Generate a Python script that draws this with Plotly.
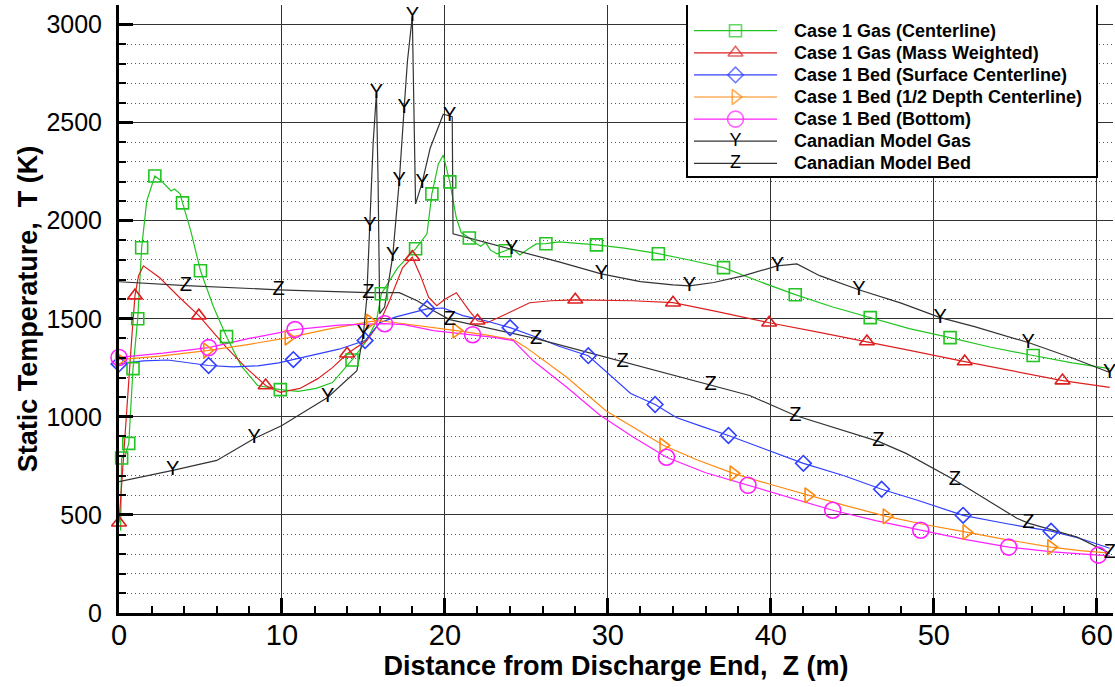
import plotly.graph_objects as go

# ---------------- data ----------------
# Case 1 Gas (Centerline)
gas_c_x = [0.10, 0.16, 0.37, 0.60, 0.86, 1.15, 1.39, 1.70, 2.20, 2.60, 2.90, 3.20, 3.40, 3.75, 3.90,
           4.40, 5.00, 5.80, 6.60, 7.50, 8.50, 9.90, 11.0, 12.1, 13.1, 14.3, 15.2, 15.8, 16.1, 17.1,
           18.2, 18.9, 19.2, 19.6, 19.9, 20.3, 20.7, 21.0, 21.5, 21.9, 22.2, 22.5, 22.8, 23.2, 23.7,
           24.1, 24.6, 25.0, 25.6, 26.2, 27.0, 28.0, 29.3, 31.0, 33.1, 35.0, 37.1, 39.3, 41.5, 43.8,
           46.1, 48.5, 51.0, 53.5, 56.1, 58.5, 60.8]
gas_c_y = [420, 790, 800, 865, 1246, 1500, 1862, 2100, 2228, 2203, 2177, 2152, 2162, 2137, 2091,
           1950, 1745, 1560, 1409, 1260, 1160, 1139, 1130, 1145, 1175, 1290, 1389, 1490, 1628, 1760,
           1857, 1933, 2137, 2290, 2335, 2198, 2015, 1940, 1912, 1885, 1870, 1890, 1850, 1831, 1847,
           1860, 1825, 1850, 1882, 1883, 1892, 1885, 1877, 1860, 1832, 1800, 1761, 1690, 1623, 1560,
           1506, 1450, 1404, 1355, 1313, 1275, 1246]
gas_c_marks = [0.16, 0.60, 0.86, 1.15, 1.39, 2.20, 3.90, 5.00, 6.60, 9.90, 14.3, 16.1, 18.2, 19.2,
               20.3, 21.5, 23.7, 26.2, 29.3, 33.1, 37.1, 41.5, 46.1, 51.0, 56.1]

# Case 1 Gas (Mass Weighted)
gas_m_x = [0.0, 0.25, 0.5, 0.8, 0.98, 1.2, 1.5, 2.5, 3.7, 4.9, 5.8, 6.6, 7.8, 9.0, 9.9, 11.1, 12.2,
           13.1, 14.0, 15.2, 16.0, 16.6, 17.4, 18.0, 18.5, 19.0, 19.5, 20.0, 20.7, 21.5, 22.0, 22.6,
           23.8, 25.2, 26.5, 28.0, 31.5, 34.0, 36.5, 39.9, 42.9, 45.9, 48.9, 51.9, 54.9, 57.9, 60.8]
gas_m_y = [460, 778, 1100, 1424, 1618, 1720, 1770, 1709, 1610, 1516, 1430, 1353, 1250, 1160, 1125,
           1145, 1195, 1251, 1322, 1389, 1480, 1592, 1760, 1815, 1720, 1610, 1567, 1600, 1633, 1541,
           1490, 1480, 1526, 1582, 1592, 1597, 1592, 1582, 1540, 1480, 1432, 1384, 1333, 1282, 1233,
           1185, 1150]
gas_m_marks = [0.0, 0.98, 4.9, 9.0, 14.0, 18.0, 22.0, 28.0, 34.0, 39.9, 45.9, 51.9, 57.9]

# Case 1 Bed (Surface Centerline)
bed_s_x = [0.0, 1.5, 3.0, 4.2, 5.5, 7.0, 8.5, 9.8, 10.7, 12.0, 13.5, 15.1, 16.0, 17.0, 18.0, 18.9,
           19.9, 21.1, 22.5, 24.0, 25.5, 27.0, 28.8, 30.0, 31.4, 32.9, 34.2, 35.8, 37.4, 39.5, 42.0,
           44.5, 46.8, 49.0, 51.8, 54.5, 57.2, 59.0, 60.8]
bed_s_y = [1270, 1285, 1290, 1275, 1262, 1255, 1260, 1275, 1292, 1320, 1345, 1389, 1480, 1510, 1530,
           1551, 1555, 1516, 1490, 1455, 1410, 1360, 1312, 1225, 1119, 1063, 997, 950, 905, 840, 763,
           700, 631, 575, 498, 455, 417, 380, 330]
bed_s_marks = [0.0, 5.5, 10.7, 15.1, 18.9, 24.0, 28.8, 32.9, 37.4, 42.0, 46.8, 51.8, 57.2]

# Case 1 Bed (1/2 Depth Centerline)
bed_h_x = [0.0, 2.5, 5.4, 8.0, 10.4, 13.0, 15.4, 16.0, 17.0, 18.5, 20.7, 22.5, 24.2, 25.0, 27.5,
           29.9, 31.5, 33.4, 35.5, 37.7, 40.0, 42.3, 44.7, 47.1, 49.5, 52.0, 54.6, 57.2, 59.0, 60.8]
bed_h_y = [1292, 1310, 1338, 1370, 1404, 1450, 1486, 1490, 1480, 1465, 1440, 1418, 1394, 1353, 1201,
           1030, 950, 855, 780, 712, 655, 600, 545, 493, 450, 412, 372, 336, 318, 305]
bed_h_marks = [0.0, 5.4, 10.4, 15.4, 20.7, 33.4, 37.7, 42.3, 47.1, 52.0, 57.2]

# Case 1 Bed (Bottom)
bed_b_x = [0.0, 2.7, 5.5, 8.0, 10.8, 13.5, 16.3, 17.5, 19.3, 21.7, 23.0, 24.2, 25.4, 27.5, 29.5,
           31.5, 33.6, 36.0, 38.6, 41.2, 43.8, 46.5, 49.2, 51.9, 54.6, 57.3, 60.1, 60.8]
bed_b_y = [1303, 1325, 1353, 1400, 1445, 1468, 1475, 1470, 1440, 1419, 1405, 1389, 1287, 1150, 1010,
           900, 794, 715, 651, 585, 524, 470, 422, 375, 336, 312, 295, 292]
bed_b_marks = [0.0, 5.5, 10.8, 16.3, 21.7, 33.6, 38.6, 43.8, 49.2, 54.6, 60.1]

# Canadian Model Gas
can_g_x = [0.0, 3.3, 6.0, 8.3, 10.0, 12.8, 14.6, 15.0, 15.2, 15.4, 15.6, 15.8, 15.9, 16.0, 16.3,
           16.8, 17.2, 17.5, 17.7, 18.0, 18.1, 18.2, 18.6, 19.1, 19.9, 20.3, 20.45, 20.5, 22.0, 24.1,
           27.0, 29.6, 32.0, 34.0, 35.0, 36.5, 38.3, 40.4, 41.6, 43.0, 45.4, 48.0, 50.4, 52.5, 55.8,
           58.5, 60.8]
can_g_y = [670, 727, 778, 890, 956, 1099, 1236, 1424, 1600, 1974, 2400, 2652, 2200, 1526, 1560,
           1821, 2203, 2574, 2813, 3042, 2500, 2086, 2193, 2371, 2543, 2533, 2530, 1933, 1900, 1856,
           1790, 1729, 1690, 1673, 1668, 1685, 1719, 1770, 1780, 1720, 1648, 1580, 1506, 1460, 1379,
           1300, 1226]
can_g_marks = [3.3, 8.3, 12.8, 15.0, 15.4, 15.8, 16.8, 17.2, 17.5, 18.0, 18.6, 20.3, 24.1, 29.6,
               35.0, 40.4, 45.4, 50.4, 55.8, 60.8]

# Canadian Model Bed
can_b_x = [0.0, 4.1, 9.8, 15.3, 17.2, 18.3, 19.3, 20.3, 25.6, 30.9, 36.3, 38.7, 41.5, 46.6, 48.3,
           49.9, 51.3, 55.1, 55.8, 58.8, 60.8]
can_b_y = [1689, 1669, 1648, 1633, 1633, 1592, 1541, 1496, 1399, 1282, 1160, 1109, 1007, 875, 814,
           743, 677, 483, 458, 387, 305]
can_b_marks = [4.1, 9.8, 15.3, 20.3, 25.6, 30.9, 36.3, 41.5, 46.6, 51.3, 55.8, 60.8]

x_ticks = [0, 10, 20, 30, 40, 50, 60]
y_ticks = [0, 500, 1000, 1500, 2000, 2500, 3000]
X_RANGE = [0, 61]
Y_RANGE = [0, 3100]

# ---------------- styles ----------------
FONT = "Liberation Sans, Arial, sans-serif"
series = [
    dict(name="Case 1 Gas (Centerline)", x=gas_c_x, y=gas_c_y, m=gas_c_marks,
         color="#22c422", symbol="square-open", size=12, glyph=None),
    dict(name="Case 1 Gas (Mass Weighted)", x=gas_m_x, y=gas_m_y, m=gas_m_marks,
         color="#dd1f1f", symbol="triangle-up-open", size=13, glyph=None),
    dict(name="Case 1 Bed (Surface Centerline)", x=bed_s_x, y=bed_s_y, m=bed_s_marks,
         color="#3040ff", symbol="diamond-open", size=12, glyph=None),
    dict(name="Case 1 Bed (1/2 Depth Centerline)", x=bed_h_x, y=bed_h_y, m=bed_h_marks,
         color="#ff8a10", symbol="triangle-right-open", size=13, glyph=None),
    dict(name="Case 1 Bed (Bottom)", x=bed_b_x, y=bed_b_y, m=bed_b_marks,
         color="#ff20ff", symbol="circle-open", size=16, glyph=None),
    dict(name="Canadian Model Gas", x=can_g_x, y=can_g_y, m=can_g_marks,
         color="#333333", symbol=None, size=0, glyph="Y"),
    dict(name="Canadian Model Bed", x=can_b_x, y=can_b_y, m=can_b_marks,
         color="#333333", symbol=None, size=0, glyph="Z"),
]

fig = go.Figure()

for s in series:
    fig.add_trace(go.Scatter(x=s["x"], y=s["y"], mode="lines", showlegend=False,
                             line=dict(color=s["color"], width=1.2)))
for s in series:
    mx = [xv for xv in s["x"] if xv in s["m"]]
    my = [yv for xv, yv in zip(s["x"], s["y"]) if xv in s["m"]]
    if s["glyph"] is None:
        fig.add_trace(go.Scatter(x=mx, y=my, mode="markers", showlegend=False, cliponaxis=False,
                                 marker=dict(symbol=s["symbol"], size=s["size"], color=s["color"],
                                             line=dict(width=1.6, color=s["color"]))))
    else:
        fig.add_trace(go.Scatter(x=mx, y=my, mode="text", text=[s["glyph"]] * len(mx),
                                 showlegend=False, cliponaxis=False,
                                 textposition="middle center",
                                 textfont=dict(family=FONT, size=20, color="black")))

# ---------------- manual legend (pixel-coordinate overlay axes) ----------------
PLOT_L, PLOT_R, PLOT_T, PLOT_B = 119, 1113, 5, 613
LEG_X0, LEG_X1, LEG_Y0, LEG_Y1 = 687, 1097, 4, 177
ROW0, ROWSTEP = 30.7, 22.1
LINE_X0, LINE_X1, TEXT_X = 694, 777, 792


def px2x(px):
    return X_RANGE[0] + (px - PLOT_L) / (PLOT_R - PLOT_L) * (X_RANGE[1] - X_RANGE[0])


def py2y(py):
    return Y_RANGE[0] + (PLOT_B - py) / (PLOT_B - PLOT_T) * (Y_RANGE[1] - Y_RANGE[0])


shapes = [dict(type="rect", xref="x", yref="y", x0=px2x(LEG_X0), x1=px2x(LEG_X1),
               y0=py2y(LEG_Y1), y1=py2y(LEG_Y0),
               line=dict(color="black", width=2), fillcolor="white", layer="between")]
annotations = []
for i, s in enumerate(series):
    ry = ROW0 + ROWSTEP * i
    xm = (LINE_X0 + LINE_X1) / 2
    if s["glyph"] is None:
        fig.add_trace(go.Scatter(x=[LINE_X0, xm, LINE_X1], y=[ry, ry, ry], xaxis="x2", yaxis="y2",
                                 mode="lines+markers", showlegend=False,
                                 line=dict(color=s["color"], width=1.2),
                                 marker=dict(symbol=s["symbol"], size=[0, s["size"], 0],
                                             color=s["color"], line=dict(width=1.6, color=s["color"]))))
    else:
        fig.add_trace(go.Scatter(x=[LINE_X0, xm, LINE_X1], y=[ry, ry, ry], xaxis="x2", yaxis="y2",
                                 mode="lines+text", text=["", s["glyph"], ""], showlegend=False,
                                 textposition="middle center",
                                 line=dict(color=s["color"], width=1.2),
                                 textfont=dict(family=FONT, size=18, color="black")))
    annotations.append(dict(xref="x2", yref="y2", x=TEXT_X, y=ry, text=s["name"], showarrow=False,
                            xanchor="left", yanchor="middle",
                            font=dict(family=FONT, size=18, color="black", weight="bold")))

fig.update_layout(
    width=1115, height=687,
    margin=dict(l=PLOT_L, r=1115 - PLOT_R, t=PLOT_T, b=687 - PLOT_B),
    paper_bgcolor="white", plot_bgcolor="white",
    font=dict(family=FONT, color="black"),
    showlegend=False,
    shapes=shapes, annotations=annotations,
    xaxis=dict(range=X_RANGE, tickvals=x_ticks, ticktext=[str(v) for v in x_ticks],
               ticks="inside", ticklen=15, tickwidth=3, tickcolor="black",
               showline=True, linewidth=3, linecolor="black", zeroline=False,
               showgrid=True, gridcolor="#333333", gridwidth=1.2,
               tickfont=dict(family=FONT, size=29), ticklabelstandoff=-6,
               minor=dict(dtick=2, tick0=0, ticks="inside", ticklen=7, tickwidth=1.5,
                          tickcolor="black", showgrid=False),
               title=dict(text="Distance from Discharge End,  Z (m)", standoff=6,
                          font=dict(family=FONT, size=27, weight="bold"))),
    yaxis=dict(range=Y_RANGE, tickvals=y_ticks, ticktext=[str(v) for v in y_ticks],
               ticks="inside", ticklen=14, tickwidth=3, tickcolor="black",
               showline=True, linewidth=3, linecolor="black", zeroline=False,
               showgrid=True, gridcolor="#333333", gridwidth=1.2,
               tickfont=dict(family=FONT, size=25), ticklabelstandoff=9,
               minor=dict(dtick=100, tick0=0, ticks="inside", ticklen=7, tickwidth=1.5,
                          tickcolor="black", showgrid=True, gridcolor="#555555",
                          griddash="1px,3px", gridwidth=1),
               title=dict(text="Static Temperature,  T (K)", standoff=1,
                          font=dict(family=FONT, size=27, weight="bold"))),
    xaxis2=dict(overlaying="x", range=[PLOT_L, PLOT_R], visible=False, fixedrange=True),
    yaxis2=dict(overlaying="y", range=[PLOT_B, PLOT_T], visible=False, fixedrange=True),
)

fig.write_html("out.html", config={"displayModeBar": False},
               post_script="document.body.style.margin='0';document.body.style.overflow='hidden';")
